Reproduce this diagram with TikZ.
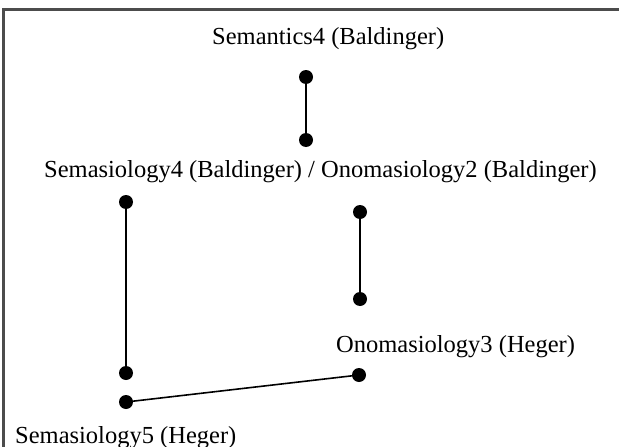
\documentclass[tikz,border=0pt]{standalone}
\usepackage{fontspec}
\setmainfont{Liberation Serif}
\begin{document}
\begin{tikzpicture}[x=1pt,y=-1pt,
  lbl/.style={inner sep=0pt,anchor=base west,font=\fontsize{24.5}{29}\selectfont},
  dotnode/.style={circle,fill=black,inner sep=0pt,minimum size=14pt},
  link/.style={line width=1.6pt,black}]
\useasboundingbox (0,0) rectangle (619,447);
\draw[line width=2.2pt,gray!60!black] (3.5,447) -- (3.5,9.5) -- (619,9.5);
\node[lbl] (t1) at (212,44) {Semantics4 (Baldinger)};
\node[lbl] (t2) at (44,177) {Semasiology4 (Baldinger) / Onomasiology2 (Baldinger)};
\node[lbl] (t3) at (336,352) {Onomasiology3 (Heger)};
\node[lbl] (t4) at (15,443) {Semasiology5 (Heger)};
\node[dotnode] (a1) at (306,77) {};
\node[dotnode] (a2) at (306,140) {};
\node[dotnode] (b1) at (126,202) {};
\node[dotnode] (b2) at (126,373) {};
\node[dotnode] (c1) at (360,212) {};
\node[dotnode] (c2) at (360,299) {};
\node[dotnode] (d1) at (359,375) {};
\node[dotnode] (d2) at (126,402) {};
\draw[link] (a1.center) -- (a2.center);
\draw[link] (b1.center) -- (b2.center);
\draw[link] (c1.center) -- (c2.center);
\draw[link] (d2.center) -- (d1.center);
\end{tikzpicture}
\end{document}
